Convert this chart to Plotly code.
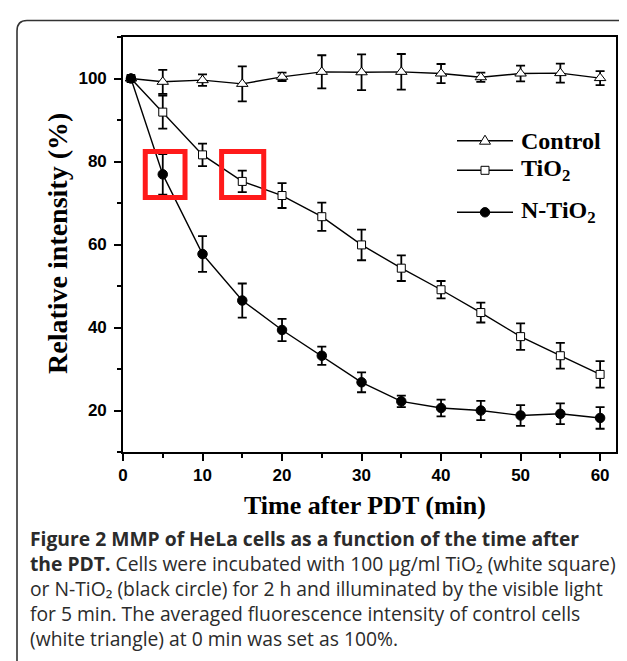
import plotly.graph_objects as go

# ---------------- data ----------------
time_min = [1, 5, 10, 15, 20, 25, 30, 35, 40, 45, 50, 55, 60]
control = [100, 99.2, 99.6, 98.7, 100.4, 101.6, 101.5, 101.6, 101.2, 100.3, 101.2, 101.3, 100.1]
control_err = [0, 2.9, 1.4, 4.2, 1.0, 4.0, 4.3, 4.3, 2.3, 1.1, 1.9, 2.3, 1.7]
tio2 = [100, 91.9, 81.6, 75.2, 71.8, 66.7, 59.9, 54.3, 49.1, 43.6, 37.8, 33.2, 28.7]
tio2_err = [0, 4.0, 2.7, 2.6, 3.0, 3.4, 3.7, 3.1, 2.1, 2.4, 3.2, 3.1, 3.2]
ntio2 = [100, 76.9, 57.7, 46.5, 39.4, 33.2, 26.8, 22.2, 20.6, 20.0, 18.8, 19.2, 18.2]
ntio2_err = [0, 4.9, 4.3, 4.1, 2.7, 2.2, 2.4, 1.4, 2.0, 2.3, 2.5, 2.5, 2.6]

series_names = ["Control", "TiO<sub>2</sub>", "N-TiO<sub>2</sub>"]
x_ticks = [0, 10, 20, 30, 40, 50, 60]
y_ticks = [20, 40, 60, 80, 100]
highlight_boxes = [(2.8, 7.8, 71.3, 82.4), (12.4, 17.7, 71.3, 82.4)]

caption_lines = [
    "<b>Figure 2 MMP of HeLa cells as a function of the time after</b>",
    "<b>the PDT.</b> Cells were incubated with 100 µg/ml TiO₂ (white square)",
    "or N-TiO₂ (black circle) for 2 h and illuminated by the visible light",
    "for 5 min. The averaged fluorescence intensity of control cells",
    "(white triangle) at 0 min was set as 100%.",
]

# ---------------- layout geometry ----------------
W, H = 627, 661
ML, MR, MT, MB = 115, 19, 29, 217
PW = W - ML - MR
PH = H - MT - MB


def px(x):
    return (x - ML) / PW


def py(y):
    return (H - MB - y) / PH


SERIF = "Liberation Serif, Times New Roman, serif"
SANS = "Liberation Sans, Arial, sans-serif"

fig = go.Figure()

styles = [
    dict(symbol="triangle-up", size=10, color="white"),
    dict(symbol="square", size=8, color="white"),
    dict(symbol="circle", size=9.5, color="black"),
]
ys = [control, tio2, ntio2]
errs = [control_err, tio2_err, ntio2_err]
for name, yv, ev, st in zip(series_names, ys, errs, styles):
    fig.add_trace(go.Scatter(
        x=time_min, y=yv, name=name, mode="lines+markers",
        line=dict(color="black", width=1.4),
        marker=dict(symbol=st["symbol"], size=st["size"], color=st["color"],
                    line=dict(color="black", width=1)),
        error_y=dict(type="data", array=ev, visible=True, color="black",
                     thickness=1.8, width=4.5),
        showlegend=False,
    ))

shapes = []
for x0, x1, y0, y1 in highlight_boxes:
    shapes.append(dict(type="rect", xref="x", yref="y", x0=x0, x1=x1, y0=y0, y1=y1,
                       line=dict(color="#ff1a1a", width=5), layer="above"))

# card border
card = (f"M {px(9)},{py(700)} L {px(9)},{py(23)} Q {px(9)},{py(12.5)} {px(19)},{py(12.5)} "
        f"L {px(619)},{py(12.5)} Q {px(629)},{py(12.5)} {px(629)},{py(22.5)} L {px(629)},{py(700)}")
shapes.append(dict(type="path", xref="paper", yref="paper", path=card,
                   line=dict(color="#333333", width=1.6)))

# legend glyphs (custom legend)
leg_rows = [132.7, 162.3, 204.3]
lx0, lx1, lxm = 449, 505, 477
annotations = []
for i, (name, yy) in enumerate(zip(series_names, leg_rows)):
    shapes.append(dict(type="line", xref="paper", yref="paper",
                       x0=px(lx0), x1=px(lx1), y0=py(yy), y1=py(yy),
                       line=dict(color="black", width=1.4)))
    if i == 0:
        path = (f"M {px(lxm-5.5)},{py(yy+3.5)} L {px(lxm+5.5)},{py(yy+3.5)} "
                f"L {px(lxm)},{py(yy-5.5)} Z")
        shapes.append(dict(type="path", xref="paper", yref="paper", path=path,
                           fillcolor="white", line=dict(color="black", width=1)))
    elif i == 1:
        shapes.append(dict(type="rect", xref="paper", yref="paper",
                           x0=px(lxm-4), x1=px(lxm+4), y0=py(yy+4), y1=py(yy-4),
                           fillcolor="white", line=dict(color="black", width=1)))
    else:
        shapes.append(dict(type="circle", xref="paper", yref="paper",
                           x0=px(lxm-4.7), x1=px(lxm+4.7), y0=py(yy+4.7), y1=py(yy-4.7),
                           fillcolor="black", line=dict(color="black", width=1)))
    annotations.append(dict(xref="paper", yref="paper", x=px(511), y=py(yy),
                            xanchor="left", yanchor="middle", showarrow=False,
                            text=f"<b>{name}</b>",
                            font=dict(family=SERIF, size=24, color="black")))

# axis titles
annotations.append(dict(xref="paper", yref="paper", x=px(357), y=py(497),
                        xanchor="center", yanchor="middle", showarrow=False,
                        text="<b>Time after PDT (min)</b>",
                        font=dict(family=SERIF, size=26, color="black")))
annotations.append(dict(xref="paper", yref="paper", x=px(50), y=py(236),
                        xanchor="center", yanchor="middle", showarrow=False,
                        textangle=-90, text="<b>Relative intensity (%)</b>",
                        font=dict(family=SERIF, size=28, color="black")))

# caption (single multi-line text block)
annotations.append(dict(xref="paper", yref="paper", x=px(20), y=py(580),
                        xanchor="left", yanchor="middle", align="left",
                        showarrow=False, text="<br>".join(caption_lines),
                        font=dict(family="Open Sans, sans-serif", size=19.3,
                                  color="#2b2b2b")))

axis_common = dict(showline=True, linecolor="black", linewidth=1.6, mirror=True,
                   ticks="outside", ticklen=7, tickwidth=1.6, tickcolor="black",
                   showgrid=False, zeroline=False,
                   tickfont=dict(family=SANS, size=17, color="black", weight="bold"))

fig.update_layout(
    width=W, height=H,
    margin=dict(l=ML, r=MR, t=MT, b=MB, pad=0),
    paper_bgcolor="white", plot_bgcolor="white",
    shapes=shapes, annotations=annotations,
    xaxis=dict(range=[0, 62], tickvals=x_ticks,
               minor=dict(dtick=5, tick0=0, ticks="outside", ticklen=4,
                          tickwidth=1.6, tickcolor="black"),
               **axis_common),
    yaxis=dict(range=[10, 110], tickvals=y_ticks, ticklabelstandoff=4,
               minor=dict(dtick=10, tick0=0, ticks="outside", ticklen=4,
                          tickwidth=1.6, tickcolor="black"),
               **axis_common),
)

fig.write_html("out.html")
